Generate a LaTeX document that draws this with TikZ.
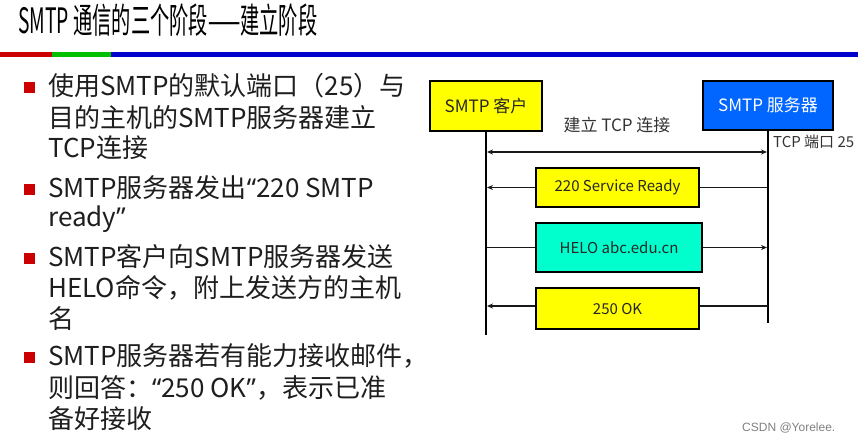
\documentclass[tikz,border=0pt]{standalone}
\usepackage{fontspec}
\usepackage{graphicx}
\setmainfont{Noto Sans CJK SC}
\newfontfamily\latinq{Noto Sans}
\newfontfamily\wmfont{Liberation Sans}
\usetikzlibrary{arrows.meta}
\definecolor{barred}{RGB}{204,0,0}
\definecolor{bargreen}{RGB}{0,192,0}
\definecolor{barblue}{RGB}{0,0,204}
\definecolor{bulletred}{RGB}{204,0,0}
\definecolor{boxyellow}{RGB}{255,255,0}
\definecolor{boxblue}{RGB}{0,102,255}
\definecolor{boxcyan}{RGB}{0,255,204}
\definecolor{bodytext}{RGB}{30,30,30}
\tikzset{
  titletext/.style={anchor=base west, inner sep=0pt, font=\fontsize{35}{40}\selectfont},
  bodyline/.style={anchor=base west, inner sep=0pt, text=bodytext, font=\fontsize{26}{31}\selectfont},
  bulletsq/.style={fill=bulletred, inner sep=0pt, minimum size=11pt},
  actorbox/.style={draw=black, line width=2pt, inner sep=0pt, font=\fontsize{17}{20}\selectfont},
  msgbox/.style={draw=black, line width=2pt, inner sep=0pt, fill=boxyellow, minimum width=163pt, font=\fontsize{15}{18}\selectfont, text=black!85},
  lifeline/.style={line width=2pt},
  msgline/.style={line width=1.5pt, draw=black!90},
  msgarrow/.style={msgline, -{Stealth[length=6pt,width=5pt]}},
  dblarrow/.style={msgline, {Stealth[length=6pt,width=5pt]}-{Stealth[length=6pt,width=5pt]}},
  labeltext/.style={inner sep=0pt, text=black!80},
}
\begin{document}
\begin{tikzpicture}[x=1pt,y=-1pt]
\useasboundingbox (0,0) rectangle (858,444);
% title
\node[titletext] (title) at (18,34) {\scalebox{0.55}[1]{SMTP 通信的三个阶段——建立阶段}};
% colour bar
\fill[barred] (0,52) rectangle (52,57);
\fill[bargreen] (52,52) rectangle (111,57);
\fill[barblue] (111,52) rectangle (858,57);
% bullets
\node[bulletsq] (b1) at (29.5,87) {};
\node[bodyline] (l11) at (48,95) {使用SMTP的默认端口（25）与};
\node[bodyline] (l12) at (48,127) {目的主机的SMTP服务器建立};
\node[bodyline] (l13) at (48,157) {TCP连接};
\node[bulletsq] (b2) at (29.5,189) {};
\node[bodyline] (l21) at (48,197) {SMTP服务器发出{\latinq “}220 SMTP};
\node[bodyline] (l22) at (48,226) {ready{\latinq ”}};
\node[bulletsq] (b3) at (29.5,258) {};
\node[bodyline] (l31) at (48,266) {SMTP客户向SMTP服务器发送};
\node[bodyline] (l32) at (48,297) {HELO命令，附上发送方的主机};
\node[bodyline] (l33) at (48,328) {名};
\node[bulletsq] (b4) at (29.5,357.5) {};
\node[bodyline] (l41) at (48,365) {SMTP服务器若有能力接收邮件，};
\node[bodyline] (l42) at (48,397) {则回答：{\latinq “}250 OK{\latinq ”}，表示已准};
\node[bodyline] (l43) at (48,428) {备好接收};
% diagram
\node[actorbox, fill=boxyellow, minimum width=112pt, minimum height=50pt, text=black!85] (client) at (486,106) {SMTP 客户};
\node[actorbox, fill=boxblue, minimum width=130pt, minimum height=49pt, text=white] (server) at (768,105.5) {SMTP 服务器};
\coordinate (cend) at (486,335);
\coordinate (send) at (768,323);
\draw[lifeline] (client.south) -- (cend);
\draw[lifeline] (server.south) -- (send);
\node[labeltext, font=\fontsize{17}{20}\selectfont] (tcplabel) at (617,125) {建立 TCP 连接};
\node[labeltext, anchor=west, font=\fontsize{15}{18}\selectfont] (portlabel) at (773,142) {TCP 端口 25};
\coordinate (c1) at (487,152);
\coordinate (s1) at (767,152);
\draw[dblarrow] (c1) -- (s1);
% 220
\node[msgbox, minimum height=39pt] (m220) at (617.5,187.5) {220 Service Ready};
\coordinate (c2) at (487,187.5);
\coordinate (s2) at (767,187.5);
\draw[msgline] (s2) -- (m220.east);
\draw[msgarrow] (m220.west) -- (c2);
% HELO
\node[msgbox, fill=boxcyan, minimum width=166pt, minimum height=49pt] (mhelo) at (619,247.5) {HELO abc.edu.cn};
\coordinate (c3) at (487,247.5);
\coordinate (s3) at (767,247.5);
\draw[msgline] (c3) -- (mhelo.west);
\draw[msgarrow] (mhelo.east) -- (s3);
% 250
\node[msgbox, minimum height=41pt] (m250) at (617.5,308.5) {250 OK};
\coordinate (c4) at (487,306);
\coordinate (s4) at (768,306);
\draw[msgline] (s4) -- (s4 -| m250.east);
\draw[msgarrow] (s4 -| m250.west) -- (c4);
% watermark
\node[inner sep=0pt, anchor=west, text=black!50, font=\wmfont\fontsize{12}{14}\selectfont] (wm) at (742,428) {CSDN @Yorelee.};
\end{tikzpicture}
\end{document}
